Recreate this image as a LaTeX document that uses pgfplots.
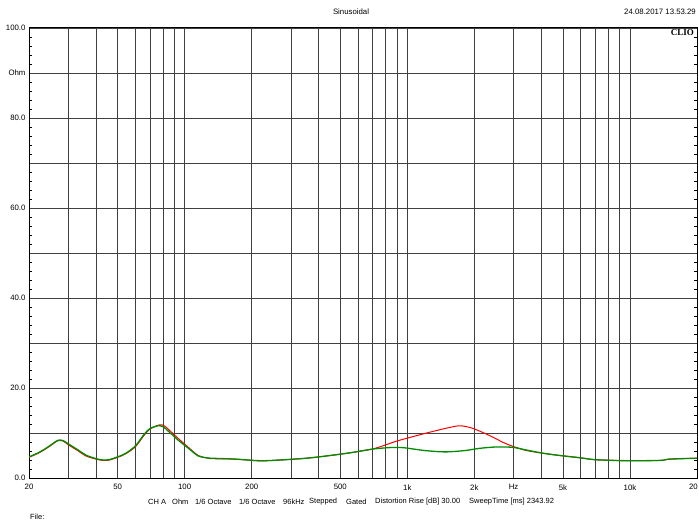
\documentclass[border=0pt]{standalone}
\usepackage{pgfplots}
\pgfplotsset{compat=1.18}
\usepackage{fontspec}
\setmainfont{Liberation Sans}
\newfontfamily\cliofont{Liberation Serif}
\definecolor{cred}{RGB}{255,0,0}
\definecolor{cgreen}{RGB}{0,140,0}
\begin{document}
\begin{tikzpicture}[x=1pt,y=1pt]
\path[use as bounding box] (0,0) rectangle (699,523);
\begin{axis}[
  at={(29pt,45pt)}, anchor=south west,
  scale only axis, width=668pt, height=450pt,
  xmode=log, xmin=20, xmax=20000, ymin=0, ymax=100,
  xtick={20,50,100,200,500,1000,2000,3000,5000,10000,20000},
  xticklabels={20,50,100,200,500,1k,2k,Hz,5k,10k,\makebox[16pt][l]{20}},
  minor xtick={30,40,60,70,80,90,300,400,600,700,800,900,4000,6000,7000,8000,9000},
  ytick={0,10,20,30,40,50,60,70,80,90,100},
  yticklabels={0.0,{},20.0,{},40.0,{},60.0,{},80.0,Ohm,100.0},
  minor y tick num=4,
  xmajorgrids, xminorgrids, ymajorgrids,
  major grid style={black!75, line width=0.65pt},
  minor grid style={black!75, line width=0.65pt},
  tick align=inside, ytick pos=both, xtick pos=bottom,
  major tick length=0pt, minor tick length=3pt,
  x tick style={draw=none},
  minor y tick style={black, line width=0.6pt},
  axis line style={black, line width=1pt},
  tick label style={font=\fontsize{7.8}{9}\selectfont},
  xticklabel style={yshift=-3pt},
  /pgf/number format/assume math mode=true,
  clip=true,
]
\addplot[cred, line width=1pt, smooth, tension=0.5] coordinates {
(20,4.6) (22,5.5) (24,6.6) (25.5,7.5) (27,8.3) (28.5,8.2) (30,7.4) (33.3,6.0) (36,4.9) (40,4.2) (43,3.9) (46,4.0) (50,4.6) (54,5.3) (60,6.9) (66,9.6) (70,10.9) (77,11.8) (81,11.6) (85,10.7) (94,8.7) (104,6.8) (115,5.0) (125,4.5) (132,4.3) (168,4.2) (218,3.8) (268,4.0) (353,4.4) (450,5.0) (553,5.6) (692,6.4) (793,7.3) (910,8.3) (1200,9.9) (1477,11.0) (1694,11.6) (1780,11.55) (1977,11.0) (2350,9.4) (2697,7.9) (2990,7.0) (3437,6.1) (4077,5.5) (4843,5.0) (5959,4.5) (6840,4.1) (8000,3.95) (9660,3.85) (13600,3.9) (15100,4.2) (20000,4.4)
};
\addplot[cgreen, line width=1.3pt, smooth, tension=0.5] coordinates {
(20,4.7) (22,5.6) (24,6.7) (25.5,7.6) (27,8.4) (28.5,8.3) (30,7.6) (33.3,6.2) (36,5.1) (40,4.3) (43,4.0) (46,4.1) (50,4.7) (54,5.4) (60,7.1) (66,9.8) (70,11.0) (76,11.6) (80,11.4) (84.5,10.4) (93.6,8.4) (104,6.6) (115,4.9) (125,4.5) (132,4.4) (168,4.2) (218,3.85) (268,4.0) (353,4.4) (450,5.0) (553,5.6) (692,6.4) (800,6.7) (880,6.8) (975,6.7) (1200,6.1) (1477,5.8) (1815,6.1) (2119,6.6) (2520,6.9) (2990,6.8) (3437,6.2) (4077,5.5) (4843,5.0) (5959,4.5) (6840,4.1) (8000,3.95) (9660,3.85) (13600,3.9) (15100,4.2) (20000,4.4)
};
\end{axis}
\begin{scope}[every node/.style={font=\fontsize{7.8}{9}\selectfont, inner sep=0pt}]
\node at (351,511) {Sinusoidal};
\node[anchor=east] at (696,511) {24.08.2017 13.53.29};
\node[anchor=east, fill=white, inner sep=0.5pt, font=\cliofont\bfseries\fontsize{9}{10}\selectfont] at (694.5,490.5) {CLIO};
\end{scope}
\begin{scope}[every node/.style={font=\fontsize{7.5}{9}\selectfont, inner sep=0pt}]
\node[anchor=west] at (148,21) {CH A};
\node[anchor=west] at (172,21) {Ohm};
\node[anchor=west] at (195,21) {1/6 Octave};
\node[anchor=west] at (239,21) {1/6 Octave};
\node[anchor=west] at (283,21) {96kHz};
\node[anchor=west] at (309,21) {Stepped};
\node[anchor=west] at (346,21) {Gated};
\node[anchor=west] at (375,21) {Distortion Rise [dB] 30.00};
\node[anchor=west] at (469,21) {SweepTime [ms] 2343.92};
\node[anchor=west] at (30,6) {File:};
\end{scope}
\end{tikzpicture}
\end{document}
